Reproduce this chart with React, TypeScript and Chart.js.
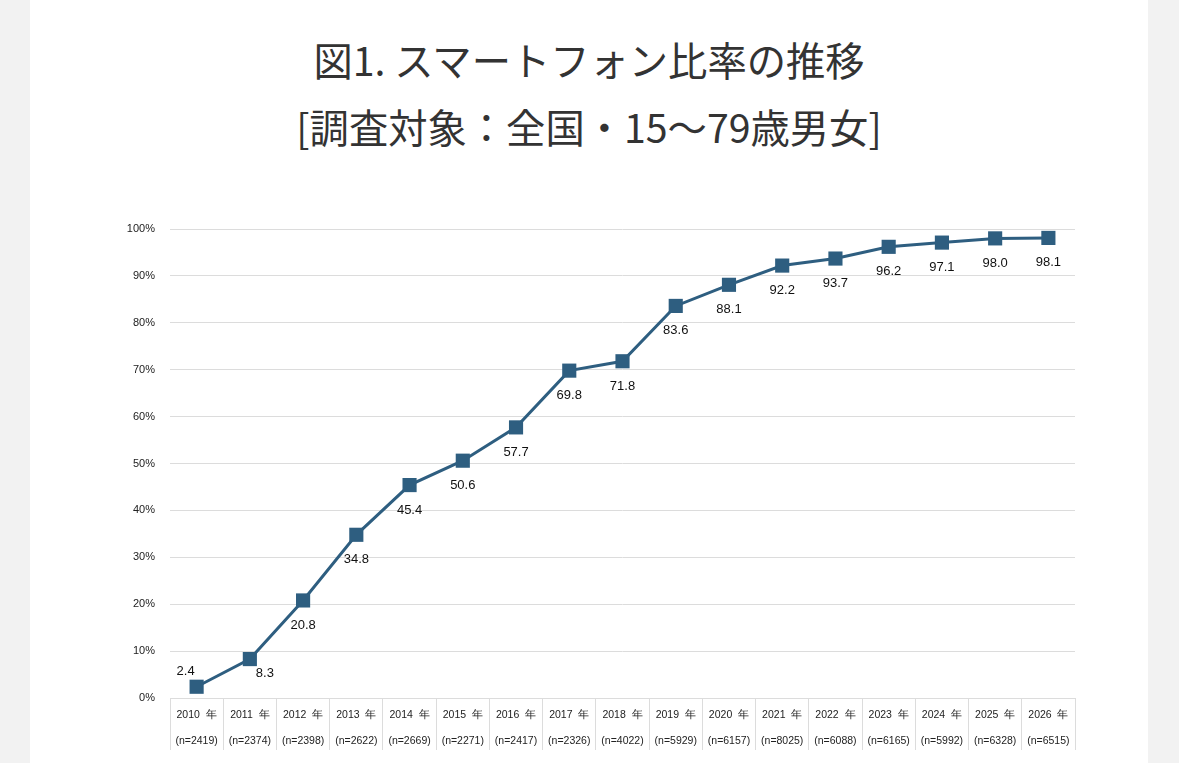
import { useEffect, useRef } from "react"
import { Chart, registerables } from "chart.js"

Chart.register(...registerables)

const years = ["2010", "2011", "2012", "2013", "2014", "2015", "2016", "2017", "2018", "2019", "2020", "2021", "2022", "2023", "2024", "2025", "2026"]
const sampleSizes = [2419, 2374, 2398, 2622, 2669, 2271, 2417, 2326, 4022, 5929, 6157, 8025, 6088, 6165, 5992, 6328, 6515]
const smartphoneRate = [2.4, 8.3, 20.8, 34.8, 45.4, 50.6, 57.7, 69.8, 71.8, 83.6, 88.1, 92.2, 93.7, 96.2, 97.1, 98.0, 98.1]

const lineColor = "#2e5e80"
const gridColor = "#dcdcdc"

// draws the value under each marker (first two placed differently, like the source)
const valueLabels = {
  id: "valueLabels",
  afterDatasetsDraw(chart: Chart) {
    const { ctx } = chart
    const meta = chart.getDatasetMeta(0)
    ctx.save()
    ctx.font = "13px 'Liberation Sans', Arial, sans-serif"
    ctx.fillStyle = "#111"
    ctx.textAlign = "center"
    ctx.textBaseline = "middle"
    meta.data.forEach((pt: any, i: number) => {
      const v = smartphoneRate[i].toFixed(1)
      let dx = 0
      let dy = 25
      if (i === 0) {
        dx = -11
        dy = -15
      } else if (i === 1) {
        dx = 15
        dy = 14
      }
      ctx.fillText(v, pt.x + dx, pt.y + dy)
    })
    ctx.restore()
  },
}

export default function App() {
  const chartRef = useRef<HTMLCanvasElement>(null)
  const chartInstance = useRef<Chart | null>(null)

  useEffect(() => {
    if (!chartRef.current) return
    if (chartInstance.current) chartInstance.current.destroy()
    const ctx = chartRef.current.getContext("2d")
    if (!ctx) return

    chartInstance.current = new Chart(ctx, {
      type: "line",
      data: {
        labels: years.map((y, i) => [y + "  年", "(n=" + sampleSizes[i] + ")"]),
        datasets: [
          {
            data: smartphoneRate,
            borderColor: lineColor,
            backgroundColor: lineColor,
            borderWidth: 3,
            pointStyle: "rect",
            pointRadius: 10,
            pointHoverRadius: 10,
            pointBorderWidth: 0,
            tension: 0,
          },
        ],
      },
      options: {
        responsive: false,
        animation: false,
        layout: { padding: { top: 39, right: 73, bottom: 0, left: 0 } },
        plugins: {
          legend: { display: false },
          tooltip: { enabled: false },
        },
        scales: {
          x: {
            offset: true,
            grid: {
              offset: true,
              drawOnChartArea: false,
              drawTicks: true,
              tickLength: 52,
              color: gridColor,
            },
            border: { color: gridColor },
            ticks: {
              padding: -48,
              color: "#222",
              font: { family: "'Liberation Sans', Arial, sans-serif", size: 10.5, lineHeight: 2.48 },
              maxRotation: 0,
              autoSkip: false,
            },
            afterFit: (scale: any) => {
              scale.height = 65
            },
          },
          y: {
            min: 0,
            max: 100,
            grid: { color: gridColor, drawTicks: false },
            border: { display: false },
            ticks: {
              stepSize: 10,
              padding: 15,
              color: "#222",
              font: { family: "'Liberation Sans', Arial, sans-serif", size: 11 },
              callback: (value) => value + "%",
            },
            afterFit: (scale: any) => {
              scale.width = 140
            },
          },
        },
      },
      plugins: [valueLabels],
    })

    return () => {
      if (chartInstance.current) {
        chartInstance.current.destroy()
        chartInstance.current = null
      }
    }
  }, [])

  const titleStyle: React.CSSProperties = {
    position: "absolute",
    left: 0,
    width: 1118,
    textAlign: "center",
    fontFamily: "'Noto Sans CJK JP', sans-serif",
    fontSize: 39.3,
    color: "#333",
    lineHeight: "50px",
    whiteSpace: "nowrap",
  }

  return (
    <div style={{ position: "fixed", inset: 0, background: "#f2f2f2", overflow: "hidden" }}>
      <div style={{ position: "absolute", left: 30, top: 0, width: 1118, height: 763, background: "#fff" }}>
        <div style={{ ...titleStyle, top: 34 }}>図1. スマートフォン比率の推移</div>
        <div style={{ ...titleStyle, top: 101 }}>[調査対象：全国・15〜79歳男女]</div>
        <canvas ref={chartRef} width={1118} height={573} style={{ position: "absolute", left: 0, top: 190 }} />
      </div>
    </div>
  )
}
